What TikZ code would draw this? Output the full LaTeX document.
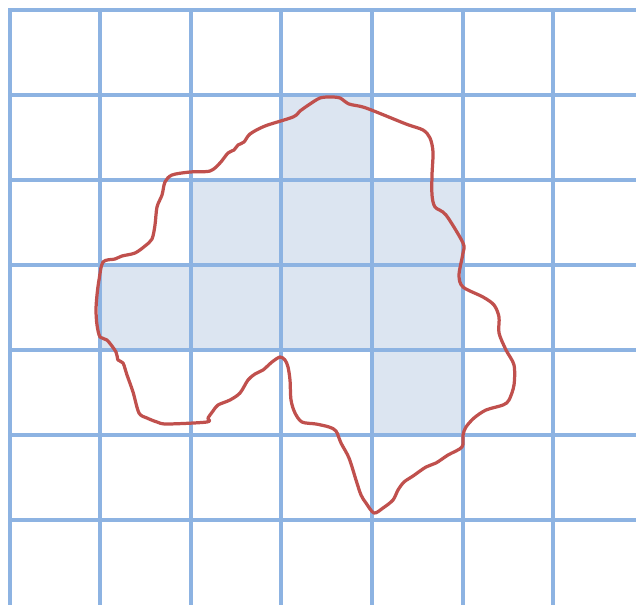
\documentclass[tikz,border=0pt]{standalone}
\usepackage{tikz}
\definecolor{gridblue}{HTML}{8DB3E2}
\definecolor{cellfill}{HTML}{DCE5F1}
\definecolor{blobred}{HTML}{C0504D}

\begin{document}
\begin{tikzpicture}[x=0.025cm,y=-0.025cm,
  gridline/.style={gridblue,line width=2.4pt,line cap=rect},
  cell/.style={fill=cellfill},
  blob/.style={blobred,line width=2.3pt,line join=round}]

\useasboundingbox (0,0) rectangle (636,604);
\clip (0,0) rectangle (636,604);

% shaded cells (column/row)
\foreach \c/\r in {3/1,2/2,3/2,4/2,1/3,2/3,3/3,4/3,4/4}
  \fill[cell] (10+90.5*\c,10+85*\r) rectangle +(90.5,85);

% grid
\foreach \x in {10,100,191,281,372,463,553}
  \draw[gridline] (\x,10) -- (\x,610);
\foreach \y in {10,95,180,265,350,435,520}
  \draw[gridline] (10,\y) -- (640,\y);

% the region
\draw[blob] plot[smooth cycle, tension=0.5] coordinates {
  (103,262) (115,259) (122,256) (135,253) (145,246) (152,239) (155,225)
  (157,207) (162,195) (165,182) (172,175) (190,172) (210,171) (220,163)
  (228,153) (234,150) (238,145) (244,142) (250,134) (265,126) (293,117)
  (300,111) (310,104) (320,98) (330,97) (340,98) (349,104) (366,108)
  (406,124) (423,130) (430,138) (433,152) (432,175) (432,195) (435,207)
  (446,215) (463,243) (463,253) (459,275) (463,287) (483,297) (494,305)
  (499,317) (499,333) (506,350) (514,365) (514,385) (509,400) (503,405)
  (486,410) (474,418) (466,427) (463,435) (462,447) (448,455) (436,463)
  (426,467) (413,476) (404,482) (398,490) (393,500) (383,508) (374,513)
  (366,503) (361,495) (356,480) (349,458) (341,443) (336,431) (329,427)
  (316,424) (302,422) (295,413) (291,400) (290,380) (288,367) (285,360)
  (280,357) (272,362) (263,370) (255,374) (248,380) (240,393) (230,400)
  (218,405) (213,411) (208,418) (207,422) (167,424) (157,422) (147,418)
  (139,413) (133,392) (127,375) (123,363) (118,360) (116,352) (107,340)
  (100,337) (97,325) (96,310) (97,295) (99,280)};

\end{tikzpicture}
\end{document}
